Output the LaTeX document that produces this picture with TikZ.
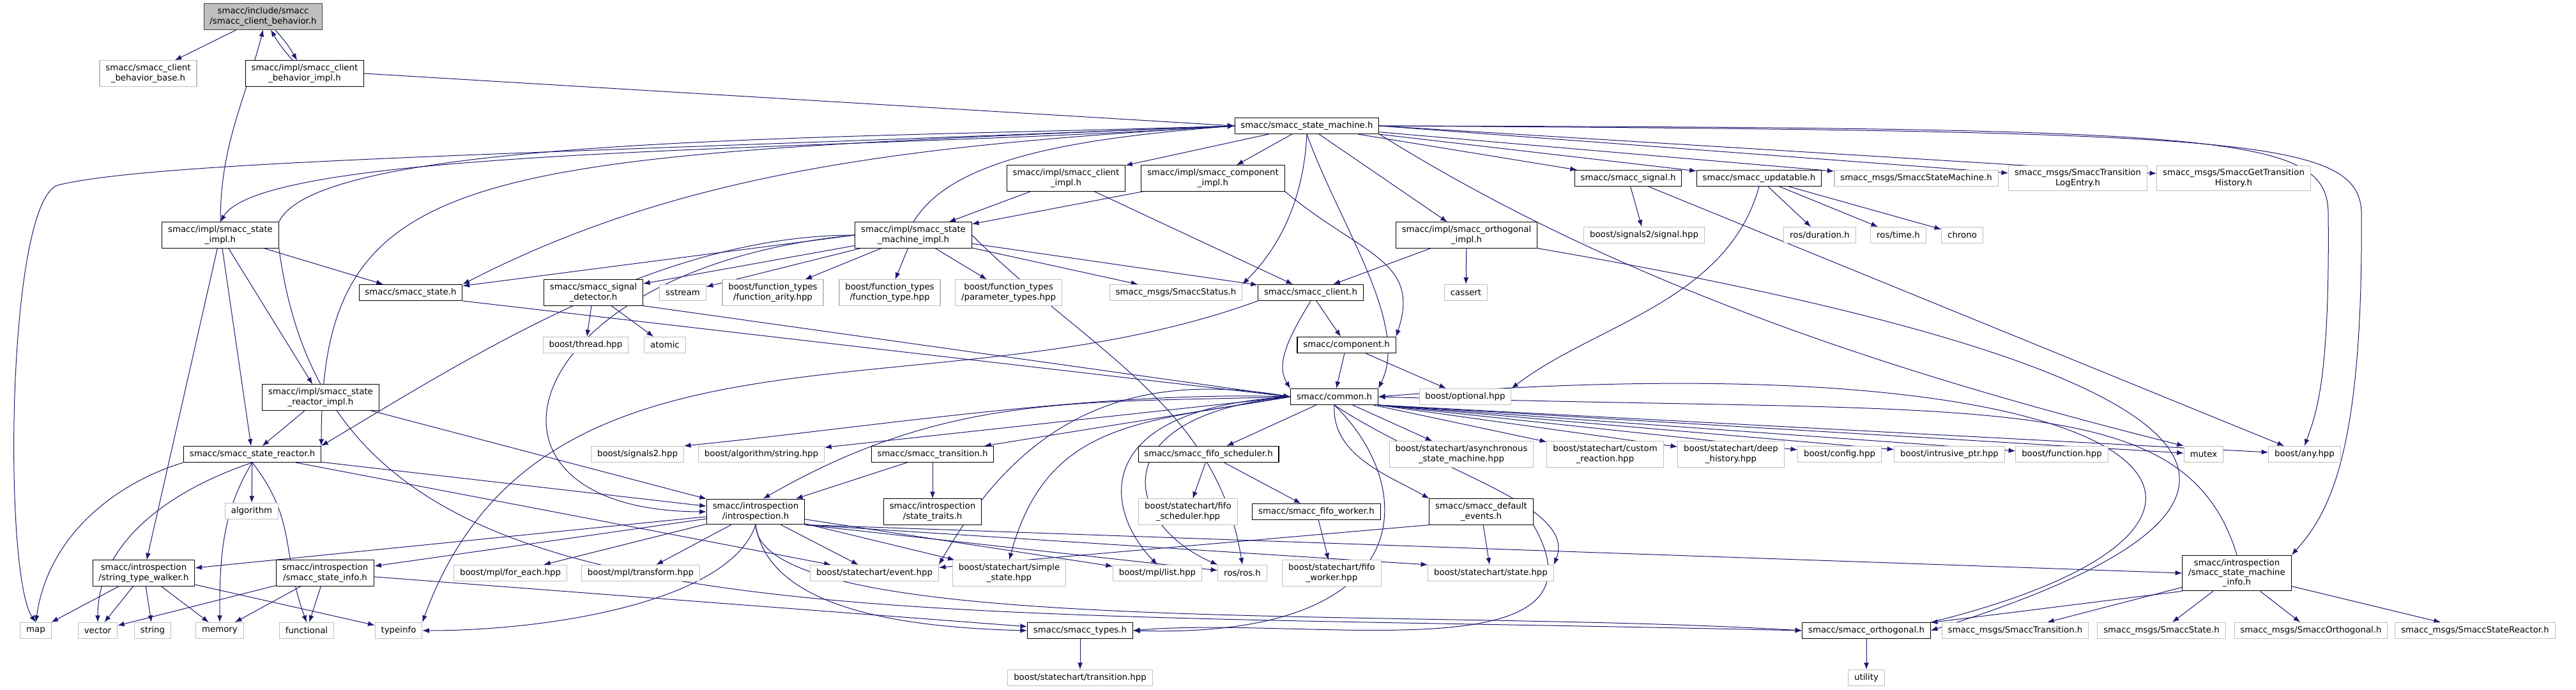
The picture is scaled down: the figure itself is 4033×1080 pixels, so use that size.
\documentclass[tikz,border=0pt]{standalone}
\usepackage{fontspec}
\setmainfont{DejaVu Sans}
\usetikzlibrary{arrows.meta}
\definecolor{edgeblue}{HTML}{191970}
\pgfdeclarelayer{edges}
\pgfsetlayers{edges,main}

\begin{document}
\begin{tikzpicture}[x=0.75pt,y=0.75pt,
    hdr/.style={draw=black,line width=0.8pt,fill=white,inner xsep=7pt,inner ysep=4.3pt,minimum height=18.75pt,align=center,font=\fontsize{10}{11.6}\selectfont},
    ext/.style={hdr,draw=black!25},
    root/.style={hdr,draw=black!75,fill=black!25},
    dep/.style={draw=edgeblue,line width=0.75pt,-{Latex[length=8pt,width=6pt]}}
]
\useasboundingbox (0,0) rectangle (4033,-1080);

% top rows
\node[root] (R)        at (412,-26)   {smacc/include/smacc\\/smacc\_client\_behavior.h};
\node[ext]  (cbbase)   at (232,-115)  {smacc/smacc\_client\\\_behavior\_base.h};
\node[hdr]  (cbimpl)   at (477,-115)  {smacc/impl/smacc\_client\\\_behavior\_impl.h};
\node[hdr]  (SM)       at (2046,-197) {smacc/smacc\_state\_machine.h};
\node[hdr]  (climpl)   at (1669,-279) {smacc/impl/smacc\_client\\\_impl.h};
\node[hdr]  (compimpl) at (1899,-279) {smacc/impl/smacc\_component\\\_impl.h};
\node[hdr]  (signal)   at (2549,-279) {smacc/smacc\_signal.h};
\node[hdr]  (updatable) at (2754,-279) {smacc/smacc\_updatable.h};
\node[ext]  (msgSM)    at (3000,-279) {smacc\_msgs/SmaccStateMachine.h};
\node[ext]  (msgLog)   at (3253,-279) {smacc\_msgs/SmaccTransition\\LogEntry.h};
\node[ext]  (msgHist)  at (3497,-279) {smacc\_msgs/SmaccGetTransition\\History.h};
\node[hdr]  (stimpl)   at (345,-368)  {smacc/impl/smacc\_state\\\_impl.h};
\node[hdr]  (smimpl)   at (1430,-368) {smacc/impl/smacc\_state\\\_machine\_impl.h};
\node[hdr]  (orthimpl) at (2296,-368) {smacc/impl/smacc\_orthogonal\\\_impl.h};
\node[ext]  (sigpp)    at (2574,-368) {boost/signals2/signal.hpp};
\node[ext]  (rosdur)   at (2849,-368) {ros/duration.h};
\node[ext]  (rostime)  at (2972,-368) {ros/time.h};
\node[ext]  (chrono)   at (3072,-368) {chrono};
\node[hdr]  (state)    at (643,-458)  {smacc/smacc\_state.h};
\node[hdr]  (sigdet)   at (929,-458)  {smacc/smacc\_signal\\\_detector.h};
\node[ext]  (sstream)  at (1069,-458) {sstream};
\node[ext]  (farity)   at (1210,-458) {boost/function\_types\\/function\_arity.hpp};
\node[ext]  (ftype)    at (1393,-458) {boost/function\_types\\/function\_type.hpp};
\node[ext]  (fparam)   at (1579,-458) {boost/function\_types\\/parameter\_types.hpp};
\node[ext]  (msgStatus) at (1841,-458) {smacc\_msgs/SmaccStatus.h};
\node[hdr]  (client)   at (2052,-458) {smacc/smacc\_client.h};
\node[ext]  (cassert)  at (2295,-458) {cassert};
\node[ext]  (thread)   at (917,-540)  {boost/thread.hpp};
\node[ext]  (atomic)   at (1041,-540) {atomic};
\node[hdr]  (component) at (2108,-540) {smacc/component.h};
\node[hdr]  (stcimpl)  at (502,-622)  {smacc/impl/smacc\_state\\\_reactor\_impl.h};
\node[hdr]  (common)   at (2089,-621) {smacc/common.h};
\node[ext]  (optional) at (2294,-621) {boost/optional.hpp};

% middle rows
\node[hdr]  (streactor) at (395,-711) {smacc/smacc\_state\_reactor.h};
\node[ext]  (bsig2)    at (998,-711)  {boost/signals2.hpp};
\node[ext]  (algstr)   at (1192,-711) {boost/algorithm/string.hpp};
\node[hdr]  (transition) at (1460,-711) {smacc/smacc\_transition.h};
\node[hdr]  (fifosched) at (1892,-711) {smacc/smacc\_fifo\_scheduler.h};
\node[ext]  (asyncsm)  at (2288,-711) {boost/statechart/asynchronous\\\_state\_machine.hpp};
\node[ext]  (custom)   at (2513,-711) {boost/statechart/custom\\\_reaction.hpp};
\node[ext]  (deephist) at (2710,-711) {boost/statechart/deep\\\_history.hpp};
\node[ext]  (config)   at (2880,-711) {boost/config.hpp};
\node[ext]  (intrusive) at (3052,-711) {boost/intrusive\_ptr.hpp};
\node[ext]  (function) at (3228,-711) {boost/function.hpp};
\node[ext]  (mutex)    at (3450,-711) {mutex};
\node[ext]  (any)      at (3608,-711) {boost/any.hpp};
\node[ext]  (algorithm) at (394,-800) {algorithm};
\node[hdr]  (introsp)  at (1183,-801) {smacc/introspection\\/introspection.h};
\node[hdr]  (traits)   at (1460,-801) {smacc/introspection\\/state\_traits.h};
\node[ext]  (bfifosched) at (1860,-801) {boost/statechart/fifo\\\_scheduler.hpp};
\node[hdr]  (fifoworker) at (2061,-801) {smacc/smacc\_fifo\_worker.h};
\node[hdr]  (defevents) at (2319,-801) {smacc/smacc\_default\\\_events.h};

% bottom rows
\node[hdr]  (walker)   at (225,-897)  {smacc/introspection\\/string\_type\_walker.h};
\node[hdr]  (stinfo)   at (509,-897)  {smacc/introspection\\/smacc\_state\_info.h};
\node[ext]  (foreach)  at (799,-897)  {boost/mpl/for\_each.hpp};
\node[ext]  (mpltrans) at (1003,-897) {boost/mpl/transform.hpp};
\node[ext]  (event)    at (1369,-897) {boost/statechart/event.hpp};
\node[ext]  (simplest) at (1580,-897) {boost/statechart/simple\\\_state.hpp};
\node[ext]  (mpllist)  at (1812,-897) {boost/mpl/list.hpp};
\node[ext]  (ros)      at (1945,-897) {ros/ros.h};
\node[ext]  (bfifoworker) at (2085,-897) {boost/statechart/fifo\\\_worker.hpp};
\node[ext]  (bstate)   at (2334,-897) {boost/statechart/state.hpp};
\node[hdr]  (sminfo)   at (3502,-897) {smacc/introspection\\/smacc\_state\_machine\\\_info.h};
\node[ext]  (map)      at (56,-987)   {map};
\node[ext]  (vector)   at (153,-987)  {vector};
\node[ext]  (string)   at (239,-987)  {string};
\node[ext]  (memory)   at (344,-987)  {memory};
\node[ext]  (functional) at (480,-987) {functional};
\node[ext]  (typeinfo) at (624,-987)  {typeinfo};
\node[hdr]  (types)    at (1691,-987) {smacc/smacc\_types.h};
\node[hdr]  (orth)     at (2922,-987) {smacc/smacc\_orthogonal.h};
\node[ext]  (msgTrans) at (3155,-987) {smacc\_msgs/SmaccTransition.h};
\node[ext]  (msgState) at (3384,-987) {smacc\_msgs/SmaccState.h};
\node[ext]  (msgOrth)  at (3618,-987) {smacc\_msgs/SmaccOrthogonal.h};
\node[ext]  (msgReactor) at (3875,-987) {smacc\_msgs/SmaccStateReactor.h};
\node[ext]  (btransition) at (1691,-1061) {boost/statechart/transition.hpp};
\node[ext]  (utility)  at (2922,-1061) {utility};

\begin{pgfonlayer}{edges}
% client behavior
\draw[dep] (R) -- (cbbase);
\draw[dep] (R) to[bend left=6] (cbimpl);
\draw[dep] (cbimpl) to[bend left=6] (R);
\draw[dep] (cbimpl.east) -- (SM.west);
% state impl
\draw[dep] (stimpl.north) .. controls +(0,120) and +(-30,-115) .. (R.south);
\draw[dep] (stimpl.north east) .. controls +(63,136) and +(-600,-20) .. (SM.west);
\draw[dep] (SM.west) .. controls +(-600,-40) and +(70,120) .. (stimpl.north);
\draw[dep] (stimpl) -- (walker);
\draw[dep] (stimpl) -- (streactor);
\draw[dep] (stimpl) -- (stcimpl);
\draw[dep] (stimpl) -- (state);
\draw[dep] (stimpl.south east) .. controls (520,-1010) and (1200,-950) .. (orth.west);
% state machine
\draw[dep] (SM) -- (climpl);
\draw[dep] (SM) -- (compimpl);
\draw[dep] (SM) -- (orthimpl);
\draw[dep] (SM.west) .. controls (900,-240) and (250,-250) .. (90,-290)
    .. controls (10,-320) and (5,-900) .. (map.north);
\draw[dep] (SM.west) .. controls +(-1200,-50) and +(0,450) .. (streactor.north east);
\draw[dep] (SM.west) .. controls +(-500,-30) and +(350,180) .. (state.north east);
\draw[dep] (SM.south) .. controls +(-5,-100) and +(60,60) .. (msgStatus.north east);
\draw[dep] (SM.south) .. controls +(50,-140) and +(50,100) .. (common.north east);
\draw[dep] (SM) -- (signal);
\draw[dep] (SM) -- (updatable);
\draw[dep] (SM) -- (msgSM);
\draw[dep] (SM.east) -- (msgLog);
\draw[dep] (SM.east) -- (msgHist);
\draw[dep] (SM.east) .. controls (3500,-205) and (3690,-215) .. (3697,-330)
    .. controls (3700,-700) and (3650,-800) .. (sminfo.north east);
\draw[dep] (SM.east) .. controls (3480,-200) and (3640,-210) .. (3645,-330)
    .. controls (3648,-600) and (3625,-650) .. (any.north);
\draw[dep] (SM.south east) .. controls +(400,-250) and +(-400,100) .. (mutex.north west);
% client and component impl
\draw[dep] (climpl) -- (smimpl);
\draw[dep] (climpl) -- (client);
\draw[dep] (compimpl) -- (smimpl);
\draw[dep] (compimpl.south east) .. controls +(120,-100) and +(40,120) .. (component.north east);
% state machine impl
\draw[dep] (smimpl.north) .. controls +(60,100) and +(-250,-20) .. (SM.west);
\draw[dep] (smimpl) -- (sigdet);
\draw[dep] (smimpl) -- (sstream);
\draw[dep] (smimpl) -- (farity);
\draw[dep] (smimpl) -- (ftype);
\draw[dep] (smimpl) -- (fparam);
\draw[dep] (smimpl) -- (msgStatus);
\draw[dep] (smimpl) -- (client);
\draw[dep] (smimpl.west) .. controls +(-300,0) and +(250,150) .. (streactor.north east);
\draw[dep] (smimpl.west) -- (state);
\draw[dep] (smimpl.west) .. controls (800,-420) and (700,-800) .. (introsp.west);
\draw[dep] (smimpl.east) .. controls +(180,-180) and +(-40,250) .. (ros.north);
% orthogonal impl
\draw[dep] (orthimpl) -- (client);
\draw[dep] (orthimpl) -- (cassert);
\draw[dep] (orthimpl.south east) .. controls (3400,-560) and (3750,-760) .. (orth.east);
% signal and updatable
\draw[dep] (signal) -- (sigpp);
\draw[dep] (signal) -- (any);
\draw[dep] (updatable.south) .. controls +(-50,-180) and +(130,100) .. (optional.north east);
\draw[dep] (updatable) -- (rosdur);
\draw[dep] (updatable) -- (rostime);
\draw[dep] (updatable) -- (chrono);
% client and component
\draw[dep] (client.south) .. controls +(-30,-50) and +(-25,40) .. (common.north west);
\draw[dep] (client) -- (component);
\draw[dep] (client.south west) .. controls +(-513,-187) and +(187,513) .. (typeinfo.north east);
\draw[dep] (component) -- (common);
\draw[dep] (component) -- (optional);
% signal detector and state
\draw[dep] (sigdet) -- (thread);
\draw[dep] (sigdet) -- (atomic);
\draw[dep] (sigdet.south east) -- (common.west);
\draw[dep] (state.south east) -- (common.west);
% state reactor
\draw[dep] (stcimpl) -- (streactor);
\draw[dep] (stcimpl) -- (introsp);
\draw[dep] (streactor.south west) .. controls +(-100,-30) and +(20,140) .. (map.north);
\draw[dep] (streactor.south) .. controls +(-120,-40) and +(0,130) .. (vector.north);
\draw[dep] (streactor.south) .. controls +(-50,-80) and +(0,90) .. (memory.north);
\draw[dep] (streactor) -- (algorithm);
\draw[dep] (streactor.south) .. controls +(70,-90) and +(-40,110) .. (functional.north);
\draw[dep] (streactor) -- (event);
\draw[dep] (streactor) -- (introsp);
% introspection helpers
\draw[dep] (walker) -- (map);
\draw[dep] (walker) -- (vector);
\draw[dep] (walker) -- (string);
\draw[dep] (walker) -- (memory);
\draw[dep] (walker) -- (typeinfo);
\draw[dep] (stinfo) -- (vector);
\draw[dep] (stinfo) -- (memory);
\draw[dep] (stinfo) -- (functional);
\draw[dep] (stinfo) -- (types);
% introspection
\draw[dep] (introsp) -- (walker);
\draw[dep] (introsp) -- (stinfo);
\draw[dep] (introsp) -- (foreach);
\draw[dep] (introsp) -- (mpltrans);
\draw[dep] (introsp) -- (event);
\draw[dep] (introsp) -- (simplest);
\draw[dep] (introsp) -- (mpllist);
\draw[dep] (introsp.south east) -- (ros);
\draw[dep] (introsp.south east) -- (bstate.north west);
\draw[dep] (introsp.south) .. controls +(-40,-120) and +(200,0) .. (typeinfo.east);
\draw[dep] (introsp.south) .. controls +(20,-130) and +(-200,5) .. (types.west);
\draw[dep] (introsp.south) .. controls (1190,-1000) and (2200,-950) .. (orth.west);
\draw[dep] (introsp.south east) -- (sminfo.west);
% common
\draw[dep] (common.west) .. controls +(-330,-10) and +(288,166) .. (introsp.60);
\draw[dep] (common.west) .. controls +(-300,10) and +(300,30) .. (bsig2.north east);
\draw[dep] (common.west) -- (algstr);
\draw[dep] (common.west) -- (transition);
\draw[dep] (common) -- (fifosched);
\draw[dep] (common) -- (asyncsm);
\draw[dep] (common) -- (custom);
\draw[dep] (common.south east) -- (deephist);
\draw[dep] (common.south east) -- (config);
\draw[dep] (common.south east) -- (intrusive);
\draw[dep] (common.south east) -- (function);
\draw[dep] (common.south east) -- (mutex);
\draw[dep] (common.south east) -- (any);
\draw[dep] (common.south) .. controls +(-5,-80) and +(-60,35) .. (defevents.north west);
\draw[dep] (common.south) .. controls (2250,-740) and (2470,-790) .. (bstate.north east);
\draw[dep] (common.west) .. controls +(-257,45) and +(130,226) .. (event.north east);
\draw[dep] (common.west) .. controls +(-230,-40) and +(60,220) .. (simplest.north);
\draw[dep] (common.west) .. controls (1700,-640) and (1730,-800) .. (mpllist.north);
\draw[dep] (common.west) .. controls (1720,-650) and (1760,-820) .. (ros.north west);
\draw[dep] (common.south) .. controls (2220,-760) and (2230,-1000) .. (types.east);
% events, schedulers, types
\draw[dep] (defevents.south west) -- (event);
\draw[dep] (defevents) -- (bstate);
\draw[dep] (defevents.south east) .. controls +(136,-237) and +(273,24) .. (types.east);
\draw[dep] (transition) -- (introsp);
\draw[dep] (transition) -- (traits);
\draw[dep] (fifosched) -- (bfifosched);
\draw[dep] (fifosched) -- (fifoworker);
\draw[dep] (fifoworker) -- (bfifoworker);
\draw[dep] (types) -- (btransition);
% orthogonal and machine info
\draw[dep] (orth) -- (utility);
\draw[dep] (orth.north east) .. controls (3650,-820) and (3420,-520) .. (common.east);
\draw[dep] (sminfo.north) .. controls (3420,-600) and (3100,-650) .. (common.east);
\draw[dep] (sminfo.south west) -- (orth);
\draw[dep] (sminfo) -- (msgTrans);
\draw[dep] (sminfo) -- (msgState);
\draw[dep] (sminfo) -- (msgOrth);
\draw[dep] (sminfo) -- (msgReactor);
\end{pgfonlayer}
\end{tikzpicture}
\end{document}
